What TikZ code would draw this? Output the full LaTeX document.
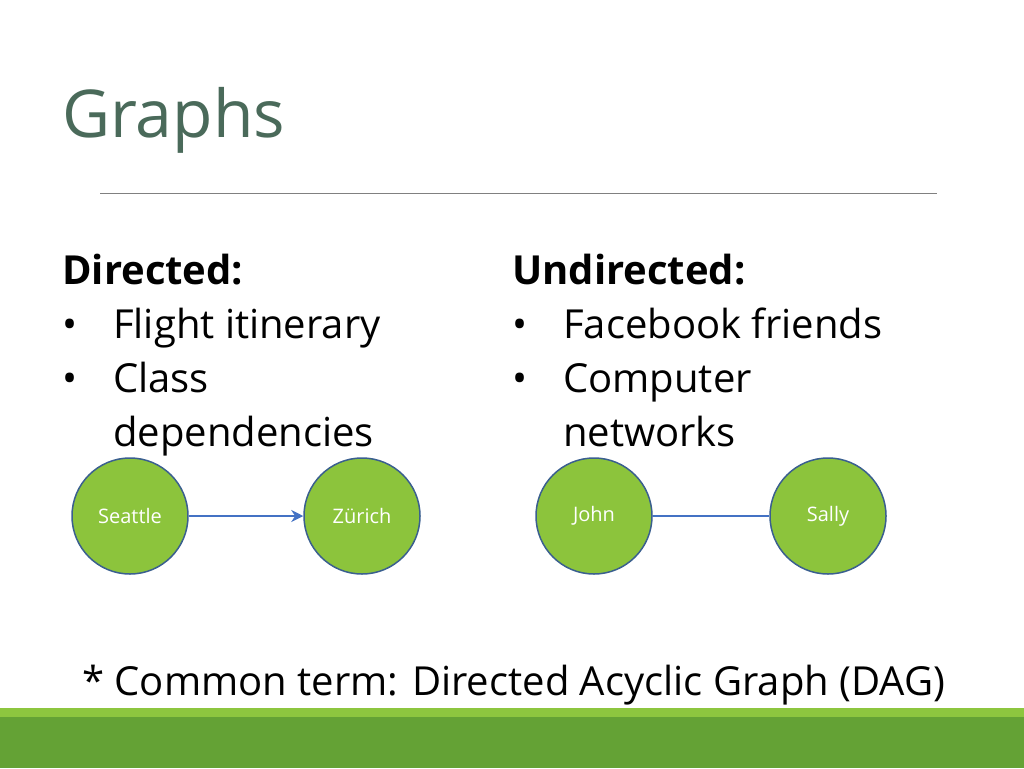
\documentclass[tikz,border=0pt]{standalone}
\usepackage{fontspec}
\setmainfont{Open Sans}
\usetikzlibrary{arrows.meta}
\definecolor{ttl}{HTML}{4A6A5A}
\definecolor{gfill}{HTML}{8CC43C}
\definecolor{gline}{HTML}{3A5F8F}
\definecolor{ablue}{HTML}{4472C4}
\definecolor{lgreen}{HTML}{8DC63F}
\definecolor{dgreen}{HTML}{64A235}
\begin{document}
\begin{tikzpicture}[x=1pt,y=-1pt,
 vert/.style={circle,fill=gfill,draw=gline,line width=1.5pt,minimum size=116pt,inner sep=0pt,text=white,font=\fontsize{20}{24}\selectfont},
 txt/.style={anchor=base west,inner sep=0pt,font=\fontsize{40}{48}\selectfont},
 hd/.style={txt,font=\fontsize{40}{48}\selectfont\bfseries}]
\useasboundingbox[fill=white] (0,0) rectangle (1024,768);
\node[anchor=base west,inner sep=0pt,text=ttl,font=\fontsize{66}{70}\selectfont] (title) at (62,137) {Graphs};
\draw[gray,line width=0.8pt] (100,193) -- (937,193);
\node[hd] (d) at (62,284) {Directed:};
\node[txt] (d1) at (62,338) {•};\node[txt] (d1t) at (113,338) {Flight itinerary};
\node[txt] (d2) at (62,392) {•};\node[txt] (d2t) at (113,392) {Class};
\node[txt] (d3t) at (113,446) {dependencies};
\node[hd] (u) at (512,284) {Undirected:};
\node[txt] (u1) at (512,338) {•};\node[txt] (u1t) at (563,338) {Facebook friends};
\node[txt] (u2) at (512,392) {•};\node[txt] (u2t) at (563,392) {Computer};
\node[txt] (u3t) at (563,446) {networks};
\node[vert] (s) at (130,516) {Seattle};
\node[vert] (z) at (362,516) {Zürich};
\node[vert] (j) at (594,516) {John};
\node[vert] (y) at (828,516) {Sally};
\draw[ablue,line width=2.5pt,-{Stealth[length=12pt,width=12pt]}] (s) -- (z);
\draw[ablue,line width=2pt] (j) -- (y);
\node[txt] (note) at (82,695) {* Common term: Directed Acyclic Graph (DAG)};
\fill[lgreen] (0,708) rectangle (1024,717);
\fill[dgreen] (0,717) rectangle (1024,768);
\end{tikzpicture}
\end{document}
